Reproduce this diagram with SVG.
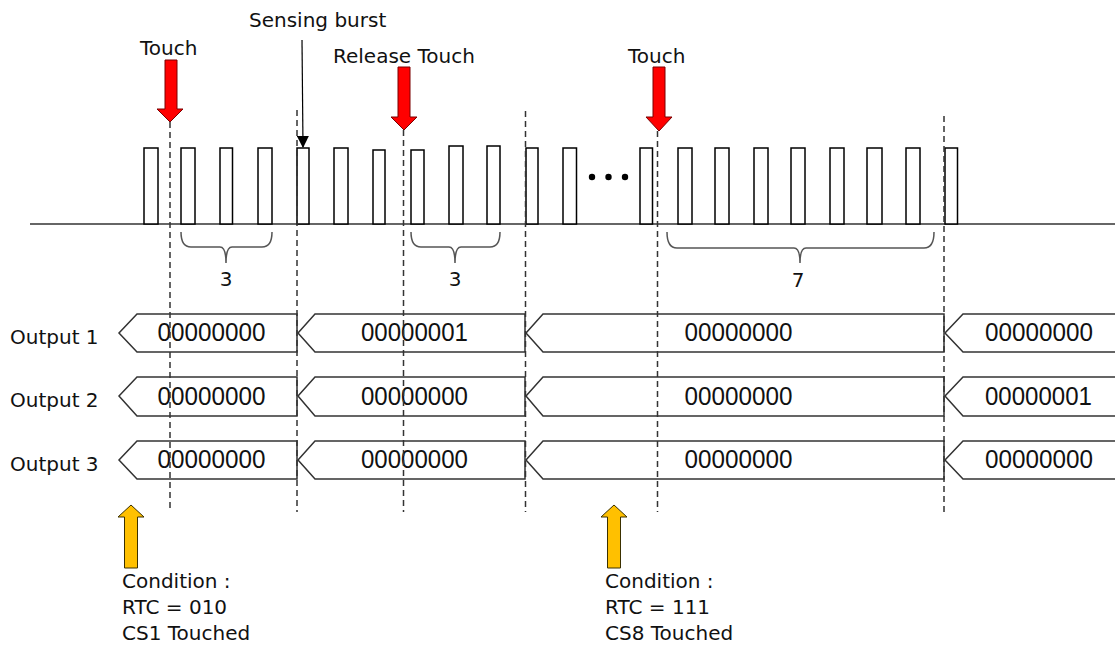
<svg xmlns="http://www.w3.org/2000/svg" width="1115" height="645" viewBox="0 0 1115 645">
<style>
.lbl{font-family:"DejaVu Sans","Liberation Sans",sans-serif;font-size:20px;fill:#111}
.num{font-family:"Liberation Sans",Arial,sans-serif;font-size:25px;fill:#111}
.pulse{fill:#fff;stroke:#000;stroke-width:1.5}
.box{fill:none;stroke:#333;stroke-width:1.5;stroke-linejoin:miter}
.dash{stroke:#333;stroke-width:1.5;stroke-dasharray:6 4;fill:none}
.brace{fill:none;stroke:#555;stroke-width:1.5}
.red{fill:#ff0000;stroke:#7a0000;stroke-width:1}
.yel{fill:#ffc000;stroke:#3a3000;stroke-width:1}
</style>
<defs>
<marker id="tri" markerWidth="12" markerHeight="12" refX="11" refY="6" orient="auto" markerUnits="userSpaceOnUse">
<path d="M0,0 L12,6 L0,12 Z" fill="#000"/>
</marker>
</defs>
<rect width="1115" height="645" fill="#fff"/>

<g id="signal">
<line x1="30" y1="224" x2="1115" y2="224" stroke="#333" stroke-width="1.5"/>
<rect class="pulse" x="144" y="148" width="14" height="76"/>
<rect class="pulse" x="181" y="148" width="14" height="76"/>
<rect class="pulse" x="220" y="148" width="12.5" height="76"/>
<rect class="pulse" x="258" y="148" width="14" height="76"/>
<rect class="pulse" x="297" y="148" width="12" height="76"/>
<rect class="pulse" x="334" y="148" width="14" height="76"/>
<rect class="pulse" x="373" y="150" width="12" height="74"/>
<rect class="pulse" x="411" y="150" width="13" height="74"/>
<rect class="pulse" x="449" y="146" width="14" height="78"/>
<rect class="pulse" x="487" y="146" width="13" height="78"/>
<rect class="pulse" x="526" y="148" width="12" height="76"/>
<rect class="pulse" x="563" y="148" width="13.5" height="76"/>
<rect class="pulse" x="640" y="148" width="12.5" height="76"/>
<rect class="pulse" x="678" y="148" width="14" height="76"/>
<rect class="pulse" x="715" y="148" width="14" height="76"/>
<rect class="pulse" x="754" y="148" width="14" height="76"/>
<rect class="pulse" x="791" y="148" width="14" height="76"/>
<rect class="pulse" x="830" y="148" width="14" height="76"/>
<rect class="pulse" x="867" y="148" width="15" height="76"/>
<rect class="pulse" x="906" y="148" width="14" height="76"/>
<rect class="pulse" x="945" y="148" width="12.5" height="76"/>
<circle cx="592" cy="177" r="3.2" fill="#000"/>
<circle cx="608.5" cy="177" r="3.2" fill="#000"/>
<circle cx="625" cy="177" r="3.2" fill="#000"/>
</g>

<g id="braces">
<path class="brace" d="M181,232 Q181,247 191,247 H220 Q226,247 226,263 Q226,247 232,247 H262 Q272,247 272,232"/>
<path class="brace" d="M411,232 Q411,247 421,247 H449 Q455,247 455,263 Q455,247 461,247 H490 Q500,247 500,232"/>
<path class="brace" d="M667,232 Q667,248 677,248 H794 Q800,248 800,263 Q800,248 806,248 H924 Q934,248 934,232"/>
<text class="lbl" x="226" y="286" text-anchor="middle">3</text>
<text class="lbl" x="455" y="286" text-anchor="middle">3</text>
<text class="lbl" x="798" y="287" text-anchor="middle">7</text>
</g>

<g id="output1">
<text class="lbl" x="10" y="344">Output 1</text>
<polygon class="box" points="297,314 137,314 119,333 137,352 297,352"/>
<text class="num" x="157.5" y="341" textLength="108" lengthAdjust="spacingAndGlyphs">00000000</text>
<polygon class="box" points="525,314 315,314 298,333 315,352 525,352"/>
<text class="num" x="361" y="341" textLength="107" lengthAdjust="spacingAndGlyphs">00000001</text>
<polygon class="box" points="944,314 543,314 526,333 543,352 944,352"/>
<text class="num" x="684.5" y="341" textLength="108" lengthAdjust="spacingAndGlyphs">00000000</text>
<polygon class="box" points="1120,314 963,314 945,333 963,352 1120,352"/>
<text class="num" x="985" y="341" textLength="108" lengthAdjust="spacingAndGlyphs">00000000</text>
</g>

<g id="output2">
<text class="lbl" x="10" y="407">Output 2</text>
<polygon class="box" points="297,377 137,377 119,396 137,416 297,416"/>
<text class="num" x="157.5" y="404.5" textLength="108" lengthAdjust="spacingAndGlyphs">00000000</text>
<polygon class="box" points="525,377 315,377 298,396 315,416 525,416"/>
<text class="num" x="361" y="404.5" textLength="107" lengthAdjust="spacingAndGlyphs">00000000</text>
<polygon class="box" points="944,377 543,377 526,396 543,416 944,416"/>
<text class="num" x="684.5" y="404.5" textLength="108" lengthAdjust="spacingAndGlyphs">00000000</text>
<polygon class="box" points="1120,377 963,377 945,396 963,416 1120,416"/>
<text class="num" x="985" y="404.5" textLength="107" lengthAdjust="spacingAndGlyphs">00000001</text>
</g>

<g id="output3">
<text class="lbl" x="10" y="471">Output 3</text>
<polygon class="box" points="297,441 137,441 119,460 137,479 297,479"/>
<text class="num" x="157.5" y="468" textLength="108" lengthAdjust="spacingAndGlyphs">00000000</text>
<polygon class="box" points="525,441 315,441 298,460 315,479 525,479"/>
<text class="num" x="361" y="468" textLength="107" lengthAdjust="spacingAndGlyphs">00000000</text>
<polygon class="box" points="944,441 543,441 526,460 543,479 944,479"/>
<text class="num" x="684.5" y="468" textLength="108" lengthAdjust="spacingAndGlyphs">00000000</text>
<polygon class="box" points="1120,441 963,441 945,460 963,479 1120,479"/>
<text class="num" x="985" y="468" textLength="108" lengthAdjust="spacingAndGlyphs">00000000</text>
</g>

<g id="connectors">
<line class="dash" x1="170" y1="122" x2="170" y2="512"/>
<line class="dash" x1="297" y1="110" x2="297" y2="512"/>
<line class="dash" x1="403.5" y1="130" x2="403.5" y2="512"/>
<line class="dash" x1="525.5" y1="111" x2="525.5" y2="512"/>
<line class="dash" x1="657.5" y1="131" x2="657.5" y2="512"/>
<line class="dash" x1="944" y1="116" x2="944" y2="515"/>
<line x1="302" y1="40" x2="303" y2="147" stroke="#000" stroke-width="1.2" marker-end="url(#tri)"/>
</g>

<g id="touch1">
<text class="lbl" x="140" y="55">Touch</text>
<polygon class="red" points="165,60 177,60 177,109 183,109 170,122 157,109 165,109"/>
</g>
<g id="sensing">
<text class="lbl" x="249" y="27">Sensing burst</text>
</g>
<g id="release">
<text class="lbl" x="333" y="63">Release Touch</text>
<polygon class="red" points="398,67 410,67 410,117 417,117 404,130 391,117 398,117"/>
</g>
<g id="touch2">
<text class="lbl" x="628" y="63">Touch</text>
<polygon class="red" points="653,67 665,67 665,117 672,117 659,131 646,117 653,117"/>
</g>

<g id="cond1">
<polygon class="yel" points="124.5,568 137.5,568 137.5,517 144,517 131,505 118,517 124.5,517"/>
<text class="lbl" x="122" y="588">Condition :</text>
<text class="lbl" x="122" y="614">RTC = 010</text>
<text class="lbl" x="122" y="640">CS1 Touched</text>
</g>
<g id="cond2">
<polygon class="yel" points="607.5,568 620.5,568 620.5,517 627,517 614,505 601,517 607.5,517"/>
<text class="lbl" x="605" y="588">Condition :</text>
<text class="lbl" x="605" y="614">RTC = 111</text>
<text class="lbl" x="605" y="640">CS8 Touched</text>
</g>
</svg>
